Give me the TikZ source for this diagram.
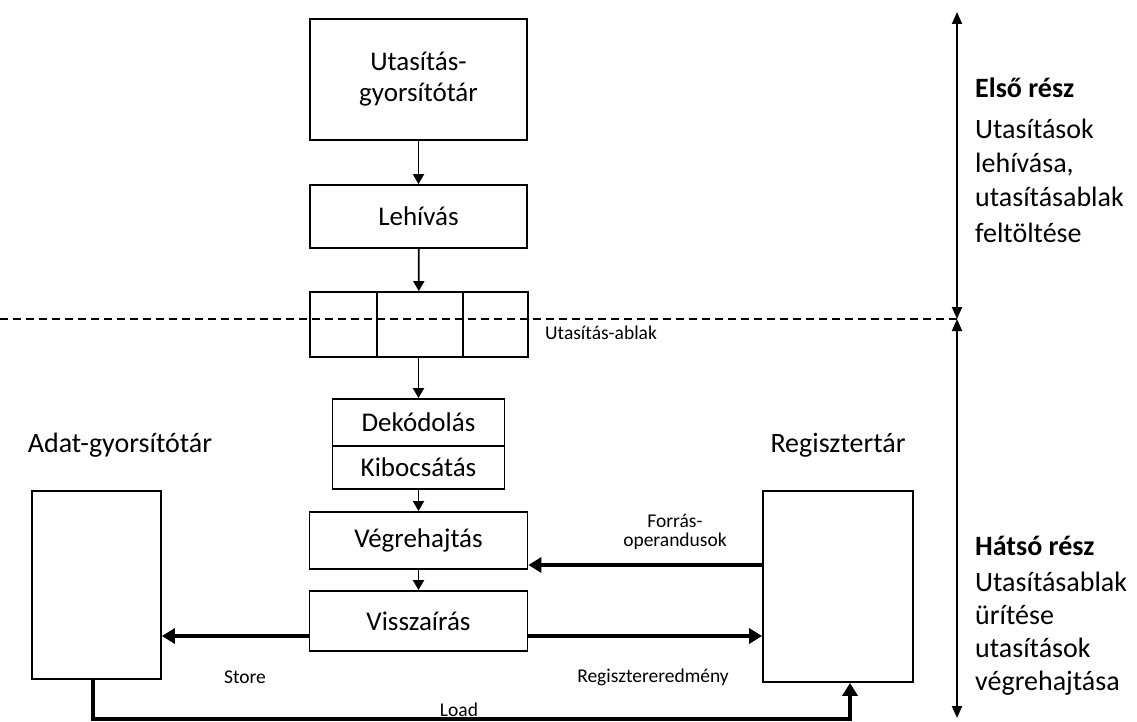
\documentclass[tikz,border=0pt]{standalone}
\usepackage{fontspec}
\setmainfont{Carlito}
\usetikzlibrary{arrows.meta}
\begin{document}
\begin{tikzpicture}[x=1pt,y=-1pt,
  box/.style={draw,line width=1.8pt,inner sep=0pt,font=\fontsize{27}{31}\selectfont,align=center},
  flow/.style={line width=1.8pt,-{Triangle[length=10pt,width=11pt]}},
  bus/.style={line width=3.5pt,-{Triangle[length=13pt,width=15pt]}},
  small/.style={font=\fontsize{19.5}{19}\selectfont,align=center,inner sep=0pt},
  big/.style={font=\fontsize{28}{32}\selectfont,inner sep=0pt},
  side/.style={font=\fontsize{28}{32}\selectfont,inner sep=0pt,anchor=base west},
  span/.style={line width=2pt,{Triangle[length=12pt,width=10pt]}-{Triangle[length=12pt,width=10pt]}}]
\useasboundingbox (0,0) rectangle (1137,722);

% front end: instruction cache, fetch, instruction window
\node[box,minimum width=217pt,minimum height=121pt] (icache) at (418.5,79.5) {Utasítás-\\gyorsítótár};
\node[box,minimum width=217pt,minimum height=63pt] (fetch) at (418.5,216.5) {Lehívás};
\node[box,minimum width=218pt,minimum height=65pt] (window) at (419,324.5) {};
\draw[line width=1.8pt] (377,0 |- window.north) -- (377,0 |- window.south);
\draw[line width=1.8pt] (463,0 |- window.north) -- (463,0 |- window.south);
\node[small,anchor=west] (wlabel) at (545,333) {Utasítás-ablak};

% dividing line between the two halves
\coordinate (dl) at (0,319);
\coordinate (mid) at (957,319);
\draw[line width=1.4pt,dash pattern=on 8pt off 5pt] (dl) -- (mid);

% back end
\node[box,minimum width=172pt,minimum height=47pt] (decode) at (418.5,422.5) {Dekódolás};
\node[box,minimum width=172pt,minimum height=43pt] (issue) at (418.5,467.5) {Kibocsátás};
\node[box,minimum width=218pt,minimum height=57pt] (exec) at (418.5,540.5) {Végrehajtás};
\node[box,minimum width=218pt,minimum height=60pt] (wb) at (418.5,621) {Visszaírás};
\node[box,minimum width=129pt,minimum height=188pt] (dcache) at (96.5,585) {};
\node[box,minimum width=150pt,minimum height=191pt] (regs) at (838,586.5) {};
\node[big] (dlabel) at (120,445) {Adat-gyorsítótár};
\node[big] (rlabel) at (838,445) {Regisztertár};

% pipeline flow
\draw[flow] (icache) -- (fetch);
\draw[flow] (fetch) -- (window);
\draw[flow] (window.south -| decode.north) -- (decode.north);
\draw[flow] (issue) -- (exec);
\draw[flow] (exec) -- (wb);

% data paths
\draw[bus] (regs.west |- 0,565) -- (exec.east |- 0,565);
\node[small] (src) at (675,532) {Forrás-\\operandusok};
\draw[bus] (wb.west |- 0,636) -- (dcache.east |- 0,636);
\node[small] (store) at (245,677) {Store};
\draw[bus] (wb.east |- 0,636) -- (regs.west |- 0,636);
\node[small] (res) at (653,677) {Regisztereredmény};
\coordinate (ld1) at (93,719);
\coordinate (ld2) at (850,719);
\draw[bus] (dcache.south -| ld1) -- (ld1) -- (ld2) -- (regs.south -| ld2);
\node[small] (load) at (459,710) {Load};

% the two halves of the pipeline
\coordinate (top) at (957,12);
\coordinate (bot) at (957,718);
\draw[span] (top) -- (mid);
\draw[span] (mid) -- (bot);

\node[side,font=\fontsize{28}{32}\selectfont\bfseries] (f0) at (975,98) {Első rész};
\node[side] (f1) at (975,139) {Utasítások};
\node[side] (f2) at (975,173) {lehívása,};
\node[side] (f3) at (975,207) {utasításablak};
\node[side] (f4) at (975,242) {feltöltése};

\node[side,font=\fontsize{28}{32}\selectfont\bfseries] (b0) at (975,555) {Hátsó rész};
\node[side] (b1) at (975,591) {Utasításablak};
\node[side] (b2) at (975,624) {ürítése};
\node[side] (b3) at (975,657) {utasítások};
\node[side] (b4) at (975,690) {végrehajtása};
\end{tikzpicture}
\end{document}
